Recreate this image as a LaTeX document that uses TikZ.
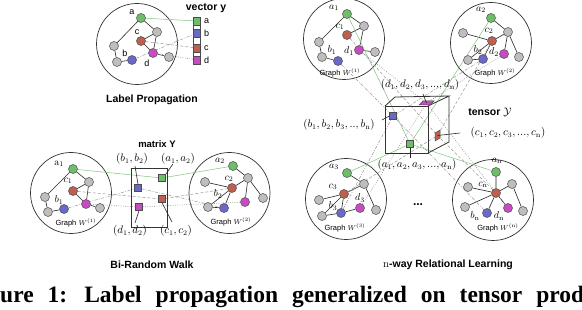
\documentclass[tikz,border=0pt]{standalone}
\usepackage{fontspec}
\setsansfont{Liberation Sans}
\newfontfamily\capfont{Liberation Serif}
\definecolor{ngreen}{RGB}{110,190,105}
\definecolor{nblue}{RGB}{105,105,200}
\definecolor{nred}{RGB}{190,95,80}
\definecolor{nmag}{RGB}{200,75,195}
\definecolor{ngray}{RGB}{190,190,190}
\definecolor{linkgreen}{RGB}{130,195,125}
\definecolor{linkgray}{RGB}{150,150,150}
\pgfdeclarelayer{bgc}\pgfdeclarelayer{bg}\pgfsetlayers{bgc,bg,main}
\tikzset{
 v/.style={circle, draw=black!70, line width=0.5pt, minimum size=9pt, inner sep=0pt},
 vg/.style={v, fill=ngray}, vgr/.style={v, fill=ngreen}, vbl/.style={v, fill=nblue},
 vrd/.style={v, fill=nred}, vmg/.style={v, fill=nmag},
 sq/.style={rectangle, draw=black!70, line width=0.5pt, minimum size=7pt, inner sep=0pt},
 edge/.style={draw=black!85, line width=0.6pt},
 gcirc/.style={circle, draw=black!80, line width=0.7pt, fill=white, inner sep=0pt, minimum size=81pt},
 lk/.style={draw=linkgreen, line width=0.5pt},
 ldash/.style={draw=linkgray, line width=0.5pt, dash pattern=on 3pt off 2pt},
 ldot/.style={draw=linkgray, line width=0.6pt, dash pattern=on 0.8pt off 1.5pt},
 ldd/.style={draw=linkgray, line width=0.5pt, dash pattern=on 3pt off 1.5pt on 0.8pt off 1.5pt},
 lbl/.style={font=\sffamily\fontsize{9}{9}\selectfont, inner sep=0pt},
 ml/.style={font=\fontsize{10}{10}\selectfont, inner sep=0pt},
 tl/.style={font=\fontsize{10.5}{10.5}\selectfont, inner sep=0pt},
 title/.style={font=\sffamily\bfseries\fontsize{10.5}{10.5}\selectfont, inner sep=0pt},
 gl/.style={font=\sffamily\fontsize{7.5}{7.5}\selectfont, inner sep=0pt},
 lead/.style={draw=black!85, line width=0.6pt},
 cube/.style={draw=black!80, line width=0.8pt}
}
\begin{document}
\begin{tikzpicture}[x=1pt,y=-1pt]
\clip (0,0) rectangle (582,310);

% ================= Label Propagation =================
\begin{pgfonlayer}{bgc}
\fill[white] (0,0) rectangle (582,310);
\node[gcirc] (LPc) at (137,44) {};
\end{pgfonlayer}
\node[vgr] (la) at (141,18) {};
\node[vg] (lg1) at (157,32) {};
\node[vrd] (lc) at (141,41) {};
\node[vg] (lg2) at (114,46) {};
\node[vmg] (ld) at (153,53) {};
\node[vg] (lg3) at (169,57) {};
\node[vbl] (lb) at (132,60) {};
\node[vg] (lg4) at (117,62) {};
\node[lbl] (tla) at (132,12) {a};
\node[lbl] (tlc) at (137,32) {c};
\node[lbl] (tlb) at (125,53) {b};
\node[lbl] (tld) at (147,63) {d};
% vector
\draw[draw=black!70, line width=0.5pt, fill=white] (193.5,17) rectangle (200.5,64);
\node[sq, fill=ngreen, minimum height=8pt] (va) at (197,21) {};
\node[sq, fill=nblue, minimum height=8pt] (vb) at (197,33) {};
\node[sq, fill=nred, minimum height=8pt] (vc) at (197,48) {};
\node[sq, fill=nmag, minimum height=8pt] (vd) at (197,60) {};
\node[lbl, anchor=west] (tva) at (204,21) {a};
\node[lbl, anchor=west] (tvb) at (204,33) {b};
\node[lbl, anchor=west] (tvc) at (204,48) {c};
\node[lbl, anchor=west] (tvd) at (204,60) {d};
\node[title] (tvec) at (206,8) {vector y};
\node[title] (tLP) at (152,100) {Label Propagation};
\begin{pgfonlayer}{bg}
\draw[edge] (la)--(lg2) (la)--(lg1) (lg1)--(lc) (lg1)--(ld) (lc)--(ld) (ld)--(lg3) (lg2)--(lg4) (lg4)--(lb);
\draw[lk] (la)--(va);
\draw[ldash] (lc)--(vc);
\draw[ldd] (lb)--(vb);
\draw[ldot] (ld)--(vd);
\end{pgfonlayer}

% ================= Bi-Random Walk =================
\begin{pgfonlayer}{bgc}
\node[gcirc] (BLc) at (71,193) {};
\node[gcirc] (BRc) at (229.5,193) {};
\end{pgfonlayer}
\node[vgr] (A1) at (73,169) {};
\node[vg] (Lg1) at (89,182) {};
\node[vrd] (C1) at (73,191) {};
\node[vg] (Lg2) at (45,197) {};
\node[vmg] (D1) at (86,204) {};
\node[vg] (Lg3) at (100,208) {};
\node[vbl] (B1) at (64,209) {};
\node[vg] (Lg4) at (48,212) {};
\node[ml] (tA1) at (59,164) {$\mathrm{a}_1$};
\node[ml] (tC1) at (68,181) {$c_1$};
\node[ml] (tB1) at (59,200) {$b_1$};
\node[gl] (tW1) at (76,223) {Graph $W^{(1)}$};

\node[vgr] (A2) at (233,166) {};
\node[vg] (Rg1) at (248,178) {};
\node[vrd] (C2) at (232,188) {};
\node[vg] (Rg2) at (205,182) {};
\node[vg] (Rg3) at (263,198) {};
\node[vmg] (D2) at (245,202) {};
\node[vg] (Rg4) at (208,207) {};
\node[vbl] (B2) at (224,208) {};
\node[ml] (tA2) at (220,161) {$a_2$};
\node[ml] (tC2) at (229,179) {$c_2$};
\node[ml] (tB2) at (218,194) {$b_2$};
\node[gl] (tW2) at (231,222) {Graph $W^{(2)}$};

\draw[cube, line width=0.7pt] (131,168) rectangle (167,227);
\node[sq, fill=ngreen] (MG) at (162,178) {};
\node[sq, fill=nblue] (MB) at (138,188) {};
\node[sq, fill=nred] (MR) at (162,199) {};
\node[sq, fill=nmag] (MM) at (139,207) {};
\node[tl] (tMB) at (132,159) {$(b_1,b_2)$};
\node[tl] (tMA) at (178,159) {$(a_1,a_2)$};
\node[tl] (tMD) at (130,231) {$(d_1,d_2)$};
\node[tl] (tMC) at (176,231) {$(c_1,c_2)$};
\node[title, font=\sffamily\bfseries\fontsize{9.5}{9.5}\selectfont] (tMY) at (157,144) {matrix Y};
\coordinate (lMB) at (135,166);
\coordinate (lMA) at (173,164);
\coordinate (lMD) at (135,223);
\coordinate (lMC) at (172,222);
\draw[lead] (lMB)--(MB.north);
\draw[lead] (lMA)--(MG.north east);
\draw[lead] (lMD)--(MM.south);
\draw[lead] (MR.south)--(lMC);
\node[title] (tBR) at (152,265) {Bi-Random Walk};
\begin{pgfonlayer}{bg}
\draw[edge] (A1)--(Lg2) (A1)--(Lg1) (Lg1)--(C1) (Lg1)--(D1) (C1)--(D1) (D1)--(Lg3) (Lg2)--(Lg4) (Lg4)--(B1);
\draw[edge] (A2)--(Rg1) (Rg1)--(C2) (Rg2)--(C2) (Rg1)--(Rg3) (Rg1)--(D2) (C2)--(Rg4) (C2)--(B2) (Rg4)--(B2);
\draw[lk] (A1)--(MG)--(A2);
\draw[ldash] (C1)--(MR)--(C2);
\draw[ldd] (B1)--(MB)--(B2);
\draw[ldot] (D1)--(MM)--(D2);
\end{pgfonlayer}

% ================= n-way Relational Learning =================
\begin{pgfonlayer}{bgc}
\node[gcirc] (T1c) at (344,39) {};
\node[gcirc] (T2c) at (491,43) {};
\node[gcirc] (T3c) at (346,199) {};
\node[gcirc] (Tnc) at (493,200) {};
\end{pgfonlayer}
% graph 1
\node[vgr] (TA1) at (347,14) {};
\node[vg] (T1g1) at (364,26) {};
\node[vrd] (TC1) at (347,35) {};
\node[vg] (T1g2) at (319,42) {};
\node[vmg] (TD1) at (359,50) {};
\node[vg] (T1g3) at (375,52) {};
\node[vg] (T1g4) at (322,57) {};
\node[vbl] (TB1) at (338,61) {};
\node[ml] (tTA1) at (334,8) {$a_1$};
\node[ml] (tTC1) at (340,27) {$c_1$};
\node[ml] (tTD1) at (349,51) {$d_1$};
\node[ml] (tTB1) at (332,50) {$b_1$};
\node[gl] (tTW1) at (340,73) {Graph $W^{(1)}$};
% graph 2
\node[vgr] (TA2) at (491,18) {};
\node[vg] (T2g1) at (463,33) {};
\node[vg] (T2g2) at (508,32) {};
\node[vrd] (TC2) at (492,41) {};
\node[vmg] (TD2) at (504,54) {};
\node[vg] (T2g3) at (519,57) {};
\node[vg] (T2g4) at (468,60) {};
\node[vbl] (TB2) at (483,59) {};
\node[ml] (tTA2) at (481,10) {$a_2$};
\node[ml] (tTC2) at (489,31) {$c_2$};
\node[ml] (tTB2) at (478,50) {$b_2$};
\node[ml] (tTD2) at (494,52) {$d_2$};
\node[gl] (tTW2) at (495,73) {Graph $W^{(2)}$};
% graph 3
\node[vgr] (TA3) at (347,173) {};
\node[vg] (T3g1) at (364,184) {};
\node[vrd] (TC3) at (344,194) {};
\node[vg] (T3g2) at (319,200) {};
\node[vmg] (TD3) at (360,208) {};
\node[vg] (T3g3) at (376,210) {};
\node[vg] (T3g4) at (322,216) {};
\node[vbl] (TB3) at (341,213) {};
\node[ml] (tTA3) at (334,167) {$a_3$};
\node[ml] (tTC3) at (333,187) {$c_3$};
\node[ml] (tTB3) at (333,206) {$b_3$};
\node[ml] (tTD3) at (360,198) {$d_3$};
\node[gl] (tTW3) at (345,228) {Graph $W^{(3)}$};
% graph n
\node[vgr] (TAn) at (496,172) {};
\node[vg] (Tng1) at (512,184) {};
\node[vrd] (TCn) at (496,193) {};
\node[vg] (Tng2) at (468,187) {};
\node[vg] (Tng4) at (465,207) {};
\node[vbl] (TBn) at (487,213) {};
\node[vmg] (TDn) at (508,208) {};
\node[vg] (Tng3) at (523,211) {};
\node[ml] (tTAn) at (497,161) {$a_{\mathrm{n}}$};
\node[ml] (tTCn) at (483,185) {$c_{\mathrm{n}}$};
\node[ml] (tTBn) at (475,216) {$b_{\mathrm{n}}$};
\node[ml] (tTDn) at (499,216) {$d_{\mathrm{n}}$};
\node[gl] (tTWn) at (498,228) {Graph $W^{(\mathrm{n})}$};
\node[title, font=\sffamily\bfseries\fontsize{12}{12}\selectfont] (tdots) at (418,205) {...};

% cube
\coordinate (F1) at (385,106);
\coordinate (F2) at (428,106);
\coordinate (F3) at (428,153);
\coordinate (F4) at (385,153);
\coordinate (K1) at (395,97);
\coordinate (K2) at (449,96);
\coordinate (K3) at (449,142);
\draw[cube] (F1)--(F2)--(F3)--(F4)--cycle;
\draw[cube] (F1)--(K1)--(K2)--(F2);
\draw[cube] (K2)--(K3)--(F3);
\node[sq, fill=nblue] (CB) at (393,116) {};
\node[sq, fill=ngreen] (CG) at (410,144) {};
\coordinate (CR) at (437.5,135.5);
\coordinate (CM) at (426.5,103);
\draw[draw=black!70, line width=0.5pt, fill=nred] (435,133)--(440,130)--(440,138)--(435,141)--cycle;
\draw[draw=black!70, line width=0.5pt, fill=nmag] (419,105)--(430,105)--(434,101)--(423,101)--cycle;
\node[tl] (tTD) at (420,85) {$(d_1,d_2,d_3,...,d_{\mathrm{n}})$};
\node[tl] (tTB) at (339,125) {$(b_1,b_2,b_3,..,b_{\mathrm{n}})$};
\node[tl] (tTC) at (508,133) {$(c_1,c_2,c_3,...,c_{\mathrm{n}})$};
\node[tl] (tTA) at (417,165) {$(a_1,a_2,a_3,...,a_{\mathrm{n}})$};
\node[title] (ttensor) at (490,112) {tensor $\mathcal{Y}$};
\coordinate (lTD) at (423,94);
\coordinate (lTB) at (382,120);
\coordinate (lTC) at (460,133);
\coordinate (lTA) at (410,158);
\draw[lead] (lTD)--(CM);
\draw[lead] (lTB)--(CB.west);
\draw[lead] (CR)--(lTC);
\draw[lead] (CG.south)--(lTA);
\node[title] (tNW) at (448,265) {\textmd{\rmfamily\fontsize{11}{11}\selectfont n}-way Relational Learning};

\begin{pgfonlayer}{bg}
\draw[edge] (TA1)--(T1g2) (TA1)--(T1g1) (T1g1)--(TC1) (T1g1)--(TD1) (TD1)--(T1g3) (T1g2)--(T1g4) (T1g4)--(TB1);
\draw[edge] (TA2)--(T2g2) (T2g2)--(TC2) (T2g1)--(TC2) (T2g2)--(T2g3) (T2g2)--(TD2) (TC2)--(T2g4) (TC2)--(TB2) (T2g4)--(TB2);
\draw[edge] (TA3)--(T3g1) (T3g1)--(T3g3) (TC3)--(T3g1) (TC3)--(T3g2) (TC3)--(T3g4) (TC3)--(TB3) (TB3)--(TD3) (T3g4)--(TB3);
\draw[edge] (TAn)--(TCn) (TCn)--(Tng2) (TCn)--(Tng1) (Tng1)--(Tng3) (TCn)--(Tng4) (TCn)--(TBn) (TCn)--(TDn);
\draw[lk] (TA1)--(CG) (TA2)--(CG) (TA3)--(CG) (TAn)--(CG);
\draw[ldd] (TB1)--(CB) (TB2)--(CB) (TB3)--(CB) (TBn)--(CB);
\draw[ldash] (TC1)--(CR) (TC2)--(CR) (TC3)--(CR) (TCn)--(CR);
\draw[ldot] (TD1)--(CM) (TD2)--(CM) (TD3)--(CM) (TDn)--(CM);
\end{pgfonlayer}

% caption
\node[anchor=base west, inner sep=0pt, font=\capfont\bfseries\fontsize{23.5}{23.5}\selectfont] (cap) at (0,302) {\spaceskip=14pt\llap{Fig}ure 1:\hskip 17pt Label propagation generalized on tensor product};
\end{tikzpicture}
\end{document}
